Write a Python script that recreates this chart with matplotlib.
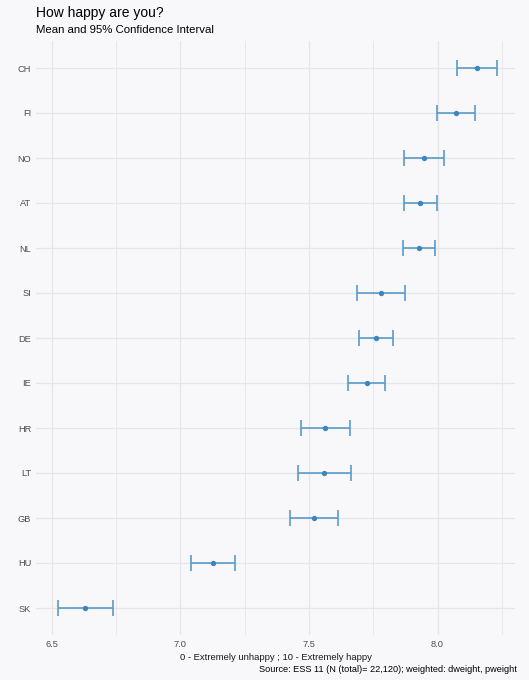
import matplotlib.pyplot as plt

# country codes, top to bottom
countries = ["CH", "FI", "NO", "AT", "NL", "SI", "DE", "IE", "HR", "LT", "GB", "HU", "SK"]
means = [8.152, 8.072, 7.947, 7.933, 7.929, 7.780, 7.762, 7.724, 7.562, 7.560, 7.519, 7.127, 6.630]
lower = [8.075, 7.999, 7.869, 7.869, 7.865, 7.685, 7.695, 7.653, 7.468, 7.456, 7.426, 7.042, 6.524]
upper = [8.231, 8.144, 8.027, 7.999, 7.991, 7.875, 7.828, 7.797, 7.658, 7.665, 7.612, 7.213, 6.738]
x_ticks = [6.5, 7.0, 7.5, 8.0]

bg = "#f8f8fa"
grid_col = "#e6e6ea"
bar_col = "#5b9bc8"
dot_col = "#3b86bf"

plt.rcParams["font.family"] = ["Liberation Sans", "DejaVu Sans"]

fig = plt.figure(figsize=(5.29, 6.8), dpi=100, facecolor=bg)
ax = fig.add_axes([36 / 529, 1 - 635 / 680, 479 / 529, 594 / 680], facecolor=bg)

n = len(countries)
ypos = [n - 1 - i for i in range(n)]
err = [[m - lo for m, lo in zip(means, lower)], [hi - m for m, hi in zip(means, upper)]]

ax.errorbar(means, ypos, xerr=err, fmt="none", ecolor=bar_col, elinewidth=1.2,
            capsize=6, capthick=1.2, zorder=3)
ax.scatter(means, ypos, s=15, color=dot_col, zorder=4, linewidths=0)

lo_all, hi_all = min(lower), max(upper)
pad = (hi_all - lo_all) * 0.05
ax.set_xlim(lo_all - pad, hi_all + pad - 0.015)
ax.set_ylim(-0.6, n - 1 + 0.6)

ax.set_yticks(ypos)
ax.set_yticklabels(countries)
ax.set_xticks(x_ticks)
ax.set_xticklabels([f"{t:.1f}" for t in x_ticks])
ax.set_xticks([6.75, 7.25, 7.75, 8.25], minor=True)

ax.grid(True, which="major", color=grid_col, linewidth=0.9)
ax.grid(True, which="minor", axis="x", color=grid_col, linewidth=0.6)
ax.set_axisbelow(True)
for s in ax.spines.values():
    s.set_visible(False)
ax.tick_params(which="both", length=0, labelsize=6.7, labelcolor="#4d4d4d", pad=3.5)

ax.set_xlabel("0 - Extremely unhappy ; 10 - Extremely happy", fontsize=6.8, color="#1a1a1a", labelpad=3)

fig.text(36 / 529, 1 - 17 / 680, "How happy are you?", fontsize=10.0, color="black", ha="left", va="baseline")
fig.text(36 / 529, 1 - 33 / 680, "Mean and 95% Confidence Interval", fontsize=8.2, color="black", ha="left", va="baseline")
fig.text(517 / 529, 1 - 672 / 680, "Source: ESS 11 (N (total)= 22,120); weighted: dweight, pweight",
         fontsize=6.6, color="black", ha="right", va="baseline")

fig.savefig("out.png", dpi=100, facecolor=bg)
